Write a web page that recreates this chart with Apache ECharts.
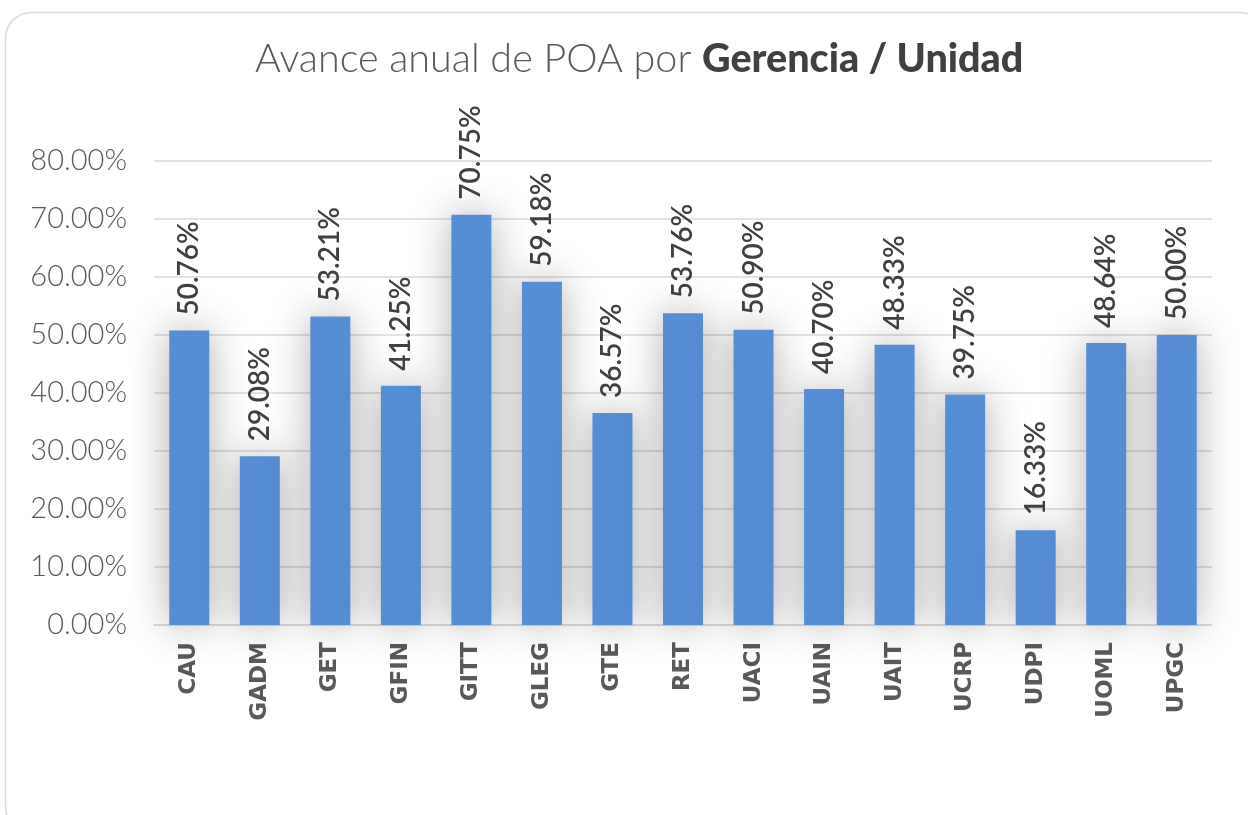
<!DOCTYPE html>
<html><head><meta charset="utf-8">
<script src="https://cdn.jsdelivr.net/npm/echarts@6/dist/echarts.min.js"></script>
<style>html,body{margin:0;padding:0;background:#fff}#c{width:1248px;height:815px}</style>
</head><body><div id="c"></div>
<script>
const categories = ['CAU','GADM','GET','GFIN','GITT','GLEG','GTE','RET','UACI','UAIN','UAIT','UCRP','UDPI','UOML','UPGC'];
const values = [50.76,29.08,53.21,41.25,70.75,59.18,36.57,53.76,50.90,40.70,48.33,39.75,16.33,48.64,50.00];
const yTicks = [0,10,20,30,40,50,60,70,80];

const chart = echarts.init(document.getElementById('c'));
chart.setOption({
  backgroundColor:'#fff',
  animation:false,
  graphic:[{type:'rect',shape:{x:5.5,y:12.5,width:1260,height:820,r:26},style:{fill:'none',stroke:'#d9d9d9',lineWidth:1.5},z:-1}],
  title:{
    text:'{l|Avance anual de POA por }{b|Gerencia / Unidad}',
    left:250, top:34,
    textStyle:{rich:{
      l:{fontFamily:'Lato',fontWeight:300,fontSize:39.5,color:'#595959'},
      b:{fontFamily:'Lato',fontWeight:900,fontSize:39.5,color:'#404040'}
    }}
  },
  grid:{left:154,right:36,top:161,bottom:190},
  xAxis:{type:'category',data:categories,
    axisLine:{lineStyle:{color:'#d9d9d9',width:1.5}},axisTick:{show:false},
    axisLabel:{rotate:90,fontFamily:'DejaVu Sans',fontWeight:'bold',fontSize:23,color:'#595959',margin:17}},
  yAxis:{type:'value',min:0,max:80,interval:10,
    axisLine:{show:false},axisTick:{show:false},
    splitLine:{lineStyle:{color:'#d9d9d9',width:1.5}},
    axisLabel:{fontFamily:'Lato',fontWeight:300,fontSize:29,color:'#595959',margin:27,
      formatter:v=>yTicks.includes(v)?v.toFixed(2)+'%':''}},
  series:[{type:'bar',data:values,barWidth:40,
    itemStyle:{color:'#558ed5',shadowBlur:40,shadowColor:'rgba(0,0,0,0.32)'},
    label:{show:true,position:'top',rotate:90,align:'left',verticalAlign:'middle',distance:15,
      fontFamily:'Lato',fontWeight:600,fontSize:28,color:'#404040',formatter:p=>p.value.toFixed(2)+'%'}}]
});
</script></body></html>
